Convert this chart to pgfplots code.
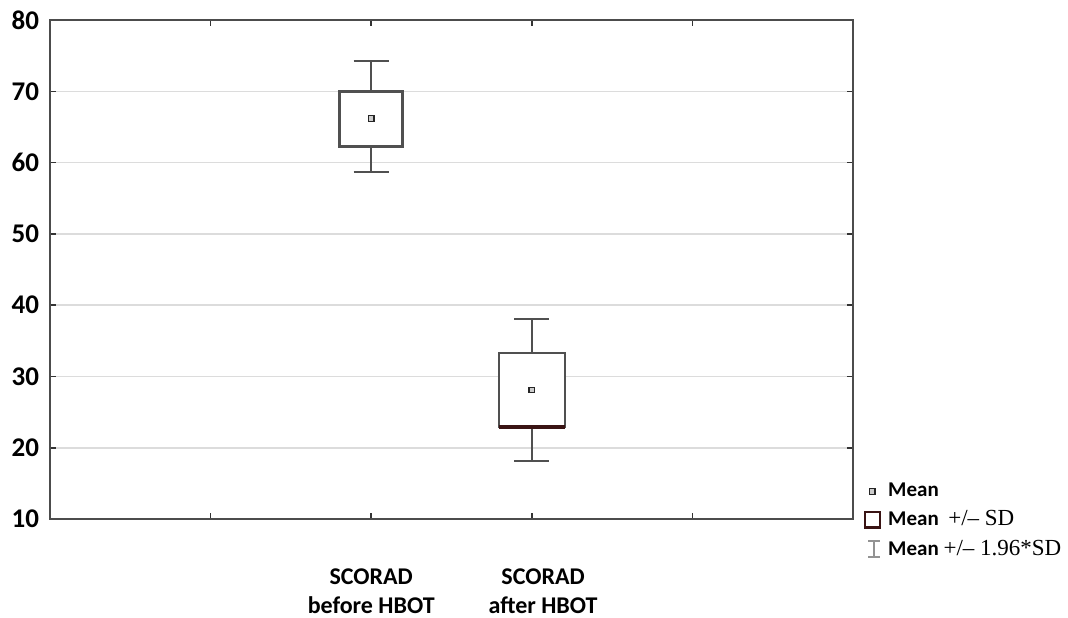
\documentclass[border=0pt]{standalone}
\usepackage{pgfplots}
\pgfplotsset{compat=1.18}
\usepackage{fontspec}
\setmainfont{Carlito}
\newfontfamily\tnr{Liberation Serif}
\definecolor{boxc}{HTML}{505050}
\definecolor{medc}{HTML}{3A1414}
\definecolor{gridc}{HTML}{DCDCDC}
\begin{document}
\begin{tikzpicture}
\begin{axis}[
 at={(0,0)}, anchor=south west,
 scale only axis, width=401.5pt, height=249.5pt,
 xmin=0, xmax=5, ymin=10, ymax=80,
 xtick={1,2,3,4}, xticklabels={},
 ytick={10,20,...,80},
 tick align=inside, major tick length=3pt,
 tick style={black!80, line width=0.8pt},
 axis line style={black!70, line width=0.8pt},
 ymajorgrids, grid style={gridc, line width=0.8pt},
 yticklabel style={font=\fontsize{13.5}{14}\selectfont\bfseries, /pgf/number format/assume math mode=true, xshift=-2pt},
 clip=false,
 legend style={draw=none, fill=none, at={(rel axis cs:1.011,0.081)}, anchor=north west,
   font=\fontsize{10.5}{12}\selectfont, row sep=1.5pt, inner sep=0pt, cells={anchor=west}},
 legend cell align=left,
]
\addlegendimage{legend image code/.code={\path[draw=none,fill=none] (0pt,-4pt) rectangle (11pt,4pt);
  \draw[draw=black!85,fill=gray!40,line width=0.6pt] (3.6pt,-1.4pt) rectangle (6.4pt,1.4pt);}}
\addlegendentry{\bfseries Mean}
\addlegendimage{legend image code/.code={\path[draw=none,fill=none] (0pt,-4pt) rectangle (11pt,4pt);
  \draw[draw=medc,fill=white,line width=1.2pt] (1.5pt,-3.8pt) rectangle (9pt,3.8pt);}}
\addlegendentry{\bfseries Mean\ \ {\tnr\mdseries\fontsize{11.5}{12}\selectfont +/\textendash\ SD}}
\addlegendimage{legend image code/.code={\path[draw=none,fill=none] (0pt,-4pt) rectangle (11pt,4pt);
  \draw[draw=gray!85,line width=0.8pt] (3pt,4pt)--(9pt,4pt) (6pt,4pt)--(6pt,-4pt) (3pt,-4pt)--(9pt,-4pt);}}
\addlegendentry{\bfseries Mean {\tnr\mdseries\fontsize{11.5}{12}\selectfont +/\textendash\ 1.96*SD}}

% whiskers: mean +/- 1.96 SD
\addplot[forget plot, boxc, line width=0.9pt] coordinates {(2,58.7) (2,74.2)};
\addplot[forget plot, boxc, line width=0.9pt] coordinates {(1.89,74.2) (2.11,74.2)};
\addplot[forget plot, boxc, line width=0.9pt] coordinates {(1.89,58.7) (2.11,58.7)};
\addplot[forget plot, boxc, line width=0.9pt] coordinates {(3,18.1) (3,38.1)};
\addplot[forget plot, boxc, line width=0.9pt] coordinates {(2.89,38.1) (3.11,38.1)};
\addplot[forget plot, boxc, line width=0.9pt] coordinates {(2.89,18.1) (3.11,18.1)};
% boxes: mean +/- SD
\addplot[forget plot, boxc, line width=1.4pt, fill=white]
  coordinates {(1.805,62.3) (2.195,62.3) (2.195,70) (1.805,70)} -- cycle;
\addplot[forget plot, boxc, line width=1.1pt, fill=white]
  coordinates {(2.795,22.9) (3.205,22.9) (3.205,33.3) (2.795,33.3)} -- cycle;
\addplot[forget plot, medc, line width=1.6pt]
  coordinates {(2.795,22.9) (3.205,22.9)};
% means
\addplot[forget plot, only marks, mark=square*, mark size=1.4pt,
  mark options={draw=black!85, fill=gray!40, line width=0.6pt}]
  coordinates {(2,66.2) (3,28.1)};

\node[anchor=north, align=center, inner sep=0pt, font=\fontsize{12}{14.5}\selectfont\bfseries]
  at (axis cs:2,10) [yshift=-24.5pt] {SCORAD\\before HBOT};
\node[anchor=north, align=center, inner sep=0pt, font=\fontsize{12}{14.5}\selectfont\bfseries]
  at (axis cs:3.07,10) [yshift=-24.5pt] {SCORAD\\after HBOT};
\end{axis}
\pgfresetboundingbox
\path (-25pt,-49pt) rectangle (509pt,259.5pt);
\end{tikzpicture}
\end{document}
